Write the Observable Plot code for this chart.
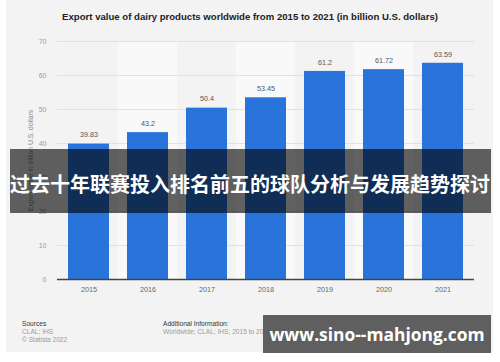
<!DOCTYPE html>
<html>
<head>
<meta charset="utf-8">
<script src="https://cdn.jsdelivr.net/npm/d3@7"></script>
<script src="https://cdn.jsdelivr.net/npm/@observablehq/plot@0.6"></script>
<style>
  html, body { margin: 0; padding: 0; background: #ffffff; }
  #wrap { position: relative; width: 500px; height: 362px; overflow: hidden; font-family: "Liberation Sans", Arial, sans-serif; }
  #panel { position: absolute; left: 6px; top: 0; width: 487px; height: 352px; background: #f3f3f3; }
  #title { position: absolute; left: 0; top: 11px; width: 500px; text-align: center; font-weight: bold; font-size: 9.6px; color: #222; }
  #chart { position: absolute; left: 0; top: 0; }
  .foot { position: absolute; font-size: 6.6px; line-height: 8px; color: #9a9a9a; }
  .foot b { font-weight: normal; color: #333; }
  #band { position: absolute; left: 10px; top: 149px; width: 481px; height: 64px; background: rgba(0,0,0,0.61); }
  #bandText { position: absolute; left: 0; top: 172px; width: 500px; text-align: center; color: #fff; font-weight: bold; font-size: 20px; line-height: 24px; font-family: "Noto Sans CJK SC", sans-serif; white-space: nowrap; }
  #wm { position: absolute; left: 263px; top: 315px; width: 228px; height: 38px; background: #5f5f5f; color: #fff; font-weight: bold; font-family: "Open Sans", "DejaVu Sans", sans-serif; font-size: 17.4px; line-height: 38px; text-align: center; white-space: nowrap; }
</style>
</head>
<body>
<div id="wrap">
  <div id="panel"></div>
  <div id="chart"></div>
  <div id="title"></div>
  <div class="foot" style="left:22px; top:320px;"><b>Sources</b><br>CLAL; IHS<br>© Statista 2022</div>
  <div class="foot" style="left:163px; top:320px;"><b>Additional Information:</b><br>Worldwide; CLAL; IHS; 2015 to 2021</div>
  <div id="band"></div>
  <div id="bandText"></div>
  <div id="wm"></div>
</div>
<script>
const titleText = "Export value of dairy products worldwide from 2015 to 2021 (in billion U.S. dollars)";
const years = ["2015", "2016", "2017", "2018", "2019", "2020", "2021"];
const values = [39.83, 43.2, 50.4, 53.45, 61.2, 61.72, 63.59];
const valueLabels = ["39.83", "43.2", "50.4", "53.45", "61.2", "61.72", "63.59"];
const yTicks = [0, 10, 20, 30, 40, 50, 60, 70];
const yLabel = "Export value in billion U.S. dollars";
const shadedYears = ["2016", "2018", "2020"];
const overlayText = "过去十年联赛投入排名前五的球队分析与发展趋势探讨";
const watermark = "www.sino--mahjong.com";

document.getElementById("title").textContent = titleText;
document.getElementById("bandText").textContent = overlayText;
document.getElementById("wm").textContent = watermark;

const data = years.map((y, i) => ({year: y, value: values[i], label: valueLabels[i]}));
const shade = shadedYears.map(y => ({year: y}));

const chart = Plot.plot({
  width: 500,
  height: 300,
  marginLeft: 57,
  marginRight: 26,
  marginTop: 41,
  marginBottom: 21,
  style: {background: "transparent", fontFamily: "Liberation Sans, Arial, sans-serif"},
  x: {domain: years, paddingInner: 0.31, paddingOuter: 0.155, label: null, tickSize: 0, tickPadding: 7},
  y: {domain: [0, 70], ticks: yTicks, label: null},
  marks: [
    Plot.barY(shade, {x: "year", y1: 0, y2: 70, fill: "#f9f9f9", insetLeft: -9.3, insetRight: -9.3}),
    Plot.gridY(yTicks, {stroke: "#dcdcdc", strokeOpacity: 1, strokeWidth: 0.8}),
    Plot.axisY({ticks: yTicks, tickSize: 0, tickPadding: 11, fontSize: 7, fill: "#9a9a9a", label: null}),
    Plot.axisX({tickSize: 0, tickPadding: 7, fontSize: 7.2, fill: "#666", label: null}),
    Plot.barY(data, {x: "year", y: "value", fill: "#2874db"}),
    Plot.ruleY([0], {stroke: "#444", strokeWidth: 1.3}),
    Plot.text(data, {x: "year", y: "value", text: "label", dy: -9, fontSize: 7.2, fill: "#555"}),
    Plot.text([yLabel], {frameAnchor: "left", textAnchor: "middle", dx: -27, rotate: -90, fontSize: 6.8, fill: "#888", text: d => d})
  ]
});
document.getElementById("chart").appendChild(chart);
</script>
</body>
</html>
